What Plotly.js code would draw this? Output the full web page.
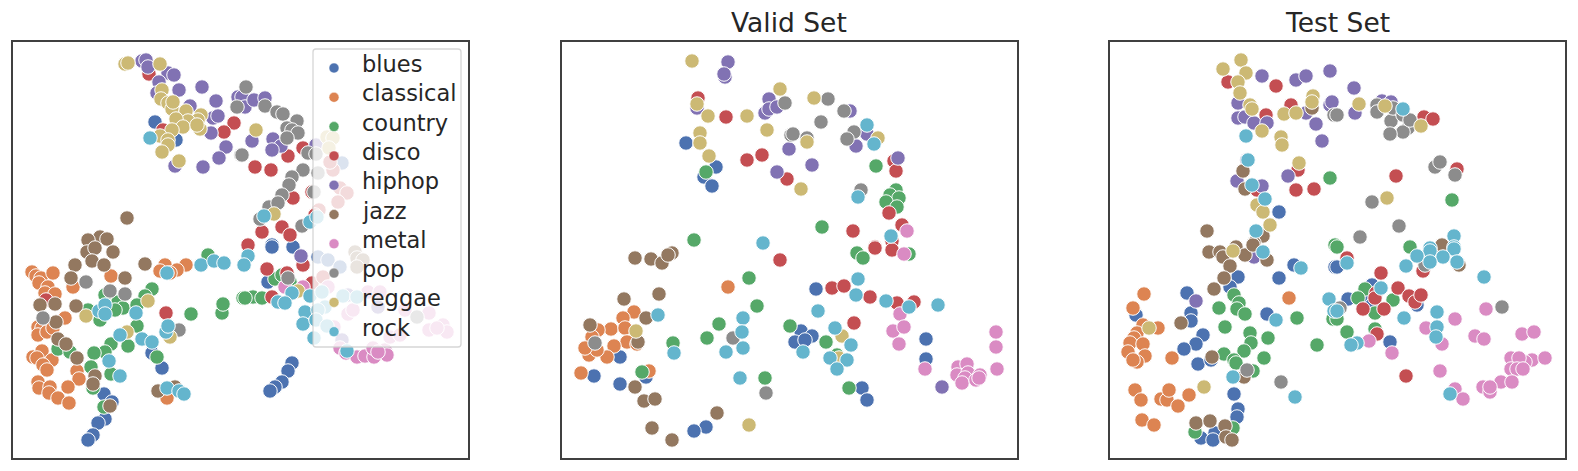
<!DOCTYPE html>
<html>
<head>
<meta charset="utf-8">
<script src="https://cdn.plot.ly/plotly-3.0.1.min.js"></script>
<style>body{margin:0;background:#fff}</style>
</head>
<body>
<div id="chart"></div>
<script>
var genres = ["blues","classical","country","disco","hiphop","jazz","metal","pop","reggae","rock"];
var colors = ["#4c72b0","#dd8452","#55a868","#c44e52","#8172b3","#937860","#da8bc3","#8c8c8c","#ccb974","#64b5cd"];

var trainBlues = [[155,122],[176,140],[342,163],[272,245],[293,247],[104,394],[152,353],[162,368],[105,419],[98,423],[93,435],[88,440],[112,402],[292,363],[288,371],[282,382],[275,387],[270,391],[268,282],[272,247],[318,257],[328,260],[340,267]];
var trainClassical = [[32,272],[36,276],[41,278],[53,273],[39,283],[48,287],[45,293],[55,294],[73,287],[111,276],[65,318],[38,327],[42,328],[38,335],[47,332],[53,328],[33,357],[42,351],[37,358],[52,360],[43,365],[47,370],[77,371],[79,379],[38,382],[39,388],[50,387],[49,393],[58,398],[68,387],[69,403],[167,398],[165,265],[186,265],[177,270],[160,271],[170,273]];
var trainCountry = [[105,295],[152,289],[145,296],[118,302],[123,308],[115,310],[88,310],[137,305],[100,320],[137,326],[111,344],[128,346],[105,352],[94,353],[58,349],[70,352],[91,367],[111,374],[157,357],[93,388],[104,407],[191,314],[222,313],[223,304],[208,255],[243,298],[275,279],[282,275],[253,297],[245,298],[262,298],[290,282]];
var trainDisco = [[149,74],[234,123],[224,132],[163,130],[255,167],[271,170],[288,156],[303,148],[293,198],[312,192],[333,170],[330,162],[340,188],[347,193],[338,202],[319,210],[315,215],[262,232],[282,227],[290,235],[248,245],[46,300],[166,313],[267,269],[303,265],[287,273],[312,283],[272,297],[323,277]];
var trainHiphop = [[142,61],[146,60],[148,67],[168,73],[174,75],[159,82],[157,93],[179,90],[202,87],[216,101],[213,118],[218,116],[190,106],[211,133],[226,147],[219,158],[203,167],[175,166],[238,97],[242,97],[245,107],[254,100],[265,98],[252,141],[273,139],[281,146],[272,150],[316,145],[301,256],[348,295],[378,307],[342,340]];
var trainJazz = [[127,218],[100,237],[107,239],[88,240],[75,265],[87,252],[95,248],[113,252],[92,261],[104,265],[71,278],[125,278],[145,264],[40,305],[55,304],[76,306],[56,322],[58,339],[66,344],[77,358],[95,376],[93,384],[158,391],[110,406],[175,387],[355,252],[357,258],[363,260],[357,267]];
var trainMetal = [[285,287],[303,287],[328,287],[368,292],[380,292],[405,310],[348,314],[353,310],[429,313],[429,330],[443,325],[447,332],[437,328],[334,327],[340,348],[346,353],[357,357],[365,356],[374,357],[373,348],[385,350],[387,355],[390,337],[400,335],[378,352]];
var trainPop = [[237,107],[241,155],[246,87],[265,106],[277,112],[283,114],[297,121],[287,128],[292,130],[298,133],[287,138],[308,153],[316,154],[303,170],[318,173],[292,177],[289,185],[282,195],[314,192],[269,207],[278,203],[260,219],[302,226],[242,155],[86,282],[110,291],[125,294],[43,318],[179,330],[288,278],[417,317]];
var trainReggae = [[125,64],[128,63],[160,64],[162,90],[161,99],[168,103],[172,109],[186,111],[201,115],[198,120],[188,121],[176,119],[200,129],[183,127],[172,130],[160,136],[168,140],[168,145],[162,152],[179,161],[173,102],[197,125],[256,130],[327,137],[333,138],[329,148],[274,214],[86,316],[148,301],[127,332],[170,337],[298,291]];
var trainRock = [[150,138],[264,216],[310,222],[317,217],[99,311],[105,305],[105,314],[136,313],[120,335],[142,339],[152,342],[109,361],[120,376],[166,332],[168,326],[167,273],[167,388],[179,391],[184,394],[201,265],[214,261],[224,263],[248,256],[244,265],[292,293],[278,302],[285,303],[310,296],[322,292],[343,296],[357,297],[305,312],[325,307],[318,310],[303,324],[316,320],[327,326],[314,338],[347,351]];

var validBlues = [[686,143],[716,167],[704,177],[712,186],[620,357],[594,376],[620,384],[646,377],[706,427],[694,431],[816,289],[801,331],[812,336],[795,342],[805,340],[926,339],[926,359],[862,388],[867,400]];
var validClassical = [[728,287],[634,312],[623,318],[611,329],[625,328],[598,330],[592,337],[627,342],[637,344],[614,346],[589,355],[607,357],[597,350],[585,348],[581,373],[649,371]];
var validCountry = [[706,172],[694,240],[876,166],[896,190],[890,195],[899,198],[886,202],[897,207],[822,227],[642,372],[673,343],[707,338],[719,324],[757,306],[749,278],[765,378],[790,326],[857,253],[863,258],[909,254],[826,342],[837,355],[849,388]];
var validDisco = [[698,98],[726,117],[762,155],[747,160],[787,179],[894,161],[896,171],[889,213],[902,225],[853,231],[875,247],[892,241],[780,260],[875,248],[892,250],[832,288],[844,286],[870,297],[897,303],[914,302],[854,323]];
var validHiphop = [[728,62],[725,77],[724,74],[769,99],[765,113],[769,109],[777,107],[697,108],[777,172],[789,149],[850,111],[867,134],[856,146],[812,165],[898,158],[942,387]];
var validJazz = [[635,258],[651,259],[662,263],[672,253],[668,255],[624,299],[659,294],[646,318],[590,325],[638,342],[635,387],[644,401],[655,399],[717,413],[652,428],[672,440]];
var validMetal = [[907,231],[904,254],[900,314],[893,331],[904,327],[899,344],[925,369],[996,332],[996,347],[997,369],[958,367],[967,364],[957,375],[968,373],[965,378],[962,383],[976,380],[980,375],[979,378]];
var validPop = [[785,103],[791,135],[828,99],[844,111],[821,122],[854,132],[847,139],[793,134],[807,138],[861,190],[595,343],[733,338],[766,393]];
var validReggae = [[692,61],[780,89],[697,104],[708,116],[747,116],[767,130],[700,133],[700,143],[709,156],[814,98],[878,138],[807,142],[801,189],[636,331],[749,425],[842,336],[839,358]];
var validRock = [[763,243],[867,125],[874,144],[858,197],[891,236],[658,315],[674,353],[743,318],[742,332],[743,348],[726,352],[740,378],[858,279],[856,295],[818,311],[886,301],[909,307],[938,305],[835,328],[851,345],[803,352],[830,358],[847,360],[837,369]];

var testBlues = [[1279,212],[1294,265],[1279,278],[1238,277],[1230,287],[1187,293],[1191,313],[1191,321],[1203,335],[1196,344],[1184,349],[1198,364],[1211,360],[1267,314],[1234,394],[1238,409],[1237,417],[1215,433],[1201,438],[1213,440],[1335,267],[1136,315],[1337,267],[1348,299],[1417,305],[1372,285],[1368,298],[1390,342],[1372,305]];
var testClassical = [[1144,294],[1133,308],[1143,325],[1158,328],[1137,333],[1134,338],[1130,343],[1143,344],[1128,352],[1145,356],[1137,362],[1133,360],[1172,358],[1135,390],[1141,400],[1161,399],[1167,400],[1169,390],[1189,395],[1178,406],[1142,420],[1154,425],[1289,298]];
var testCountry = [[1330,178],[1335,245],[1452,200],[1410,247],[1337,247],[1234,295],[1239,303],[1237,309],[1245,314],[1219,308],[1225,327],[1250,333],[1251,343],[1268,338],[1244,351],[1224,354],[1264,358],[1234,360],[1236,363],[1253,371],[1297,318],[1317,345],[1195,432],[1233,428],[1333,319],[1365,289],[1358,298],[1375,313],[1393,300],[1347,332],[1375,329],[1337,319]];
var testDisco = [[1228,82],[1276,86],[1291,105],[1266,115],[1298,170],[1296,190],[1314,189],[1257,190],[1424,117],[1433,119],[1457,169],[1396,176],[1347,258],[1423,271],[1381,273],[1398,288],[1409,296],[1415,302],[1421,295],[1376,293],[1375,298],[1363,309],[1384,309],[1377,334],[1406,376]];
var testHiphop = [[1262,76],[1296,80],[1306,76],[1330,71],[1238,103],[1238,118],[1245,117],[1254,123],[1267,123],[1306,113],[1316,124],[1322,141],[1330,105],[1332,102],[1288,176],[1237,181],[1262,186],[1247,160],[1354,88],[1355,113],[1382,101],[1391,102],[1254,257],[1196,301]];
var testJazz = [[1312,108],[1243,171],[1245,189],[1207,231],[1263,236],[1254,243],[1236,247],[1442,247],[1209,252],[1220,252],[1223,257],[1245,255],[1253,245],[1267,260],[1230,266],[1224,278],[1214,289],[1181,323],[1212,357],[1244,377],[1196,423],[1210,421],[1225,426],[1226,437],[1232,440],[1442,245],[1459,265]];
var testMetal = [[1486,309],[1455,319],[1426,328],[1442,344],[1369,341],[1392,353],[1475,336],[1484,339],[1522,334],[1534,332],[1440,371],[1511,358],[1532,360],[1545,358],[1525,362],[1519,358],[1511,369],[1517,369],[1523,369],[1501,382],[1512,382],[1483,387],[1490,392],[1490,387],[1455,389],[1463,399]];
var testPop = [[1334,115],[1337,115],[1377,105],[1377,112],[1391,121],[1393,108],[1403,115],[1408,128],[1403,132],[1390,134],[1435,167],[1440,162],[1455,175],[1372,202],[1399,226],[1360,237],[1410,120],[1247,370],[1281,382],[1425,265],[1340,308],[1502,307]];
var testReggae = [[1241,60],[1223,69],[1246,73],[1238,82],[1240,93],[1250,105],[1252,109],[1262,131],[1281,137],[1282,145],[1284,114],[1296,113],[1313,96],[1312,102],[1299,163],[1257,205],[1263,212],[1270,225],[1359,104],[1385,106],[1421,126],[1387,198],[1233,251],[1149,328],[1204,387]];
var testRock = [[1246,136],[1248,160],[1252,185],[1265,199],[1256,231],[1403,109],[1454,236],[1454,247],[1430,248],[1263,252],[1301,268],[1276,320],[1329,299],[1334,311],[1233,377],[1295,397],[1430,251],[1454,249],[1417,256],[1443,257],[1430,262],[1457,262],[1406,266],[1347,263],[1484,277],[1381,288],[1337,311],[1404,318],[1437,312],[1437,327],[1436,337],[1357,343],[1351,345],[1450,394]];

var W = 1578, H = 471;
var panels = [
  {left: 12.7, right: 468, axis: "", points: [trainBlues,trainClassical,trainCountry,trainDisco,trainHiphop,trainJazz,trainMetal,trainPop,trainReggae,trainRock]},
  {left: 561.5, right: 1017, axis: "2", points: [validBlues,validClassical,validCountry,validDisco,validHiphop,validJazz,validMetal,validPop,validReggae,validRock]},
  {left: 1110, right: 1565, axis: "3", points: [testBlues,testClassical,testCountry,testDisco,testHiphop,testJazz,testMetal,testPop,testReggae,testRock]}
];
var frameTop = 42, frameBottom = 458;

var traces = [];
var layout = {
  width: W, height: H,
  margin: {l: 0, r: 0, t: 0, b: 0},
  paper_bgcolor: "#fff", plot_bgcolor: "#fff",
  showlegend: false,
  shapes: [], annotations: []
};

panels.forEach(function(p) {
  var xName = "x" + p.axis, yName = "y" + p.axis;
  layout["xaxis" + p.axis] = {
    domain: [p.left / W, p.right / W], range: [p.left, p.right], anchor: yName,
    showticklabels: false, ticks: "", showgrid: false, zeroline: false,
    showline: true, mirror: true, linecolor: "#404040", linewidth: 2
  };
  layout["yaxis" + p.axis] = {
    domain: [1 - frameBottom / H, 1 - frameTop / H], range: [frameBottom, frameTop], anchor: xName,
    showticklabels: false, ticks: "", showgrid: false, zeroline: false,
    showline: true, mirror: true, linecolor: "#404040", linewidth: 2
  };
  p.points.forEach(function(pts, i) {
    traces.push({
      type: "scatter", mode: "markers", name: genres[i], xaxis: xName, yaxis: yName,
      x: pts.map(function(d) { return d[0]; }),
      y: pts.map(function(d) { return d[1]; }),
      marker: {size: 14.5, color: colors[i], line: {color: "#fff", width: 1}}
    });
  });
});

// Titles on panels 2 and 3
[["Valid Set", "x2 domain"], ["Test Set", "x3 domain"]].forEach(function(t) {
  layout.annotations.push({
    text: t[0], xref: t[1], yref: "paper", x: 0.5, y: 1 - 40 / H, yanchor: "bottom", xanchor: "center",
    showarrow: false, font: {family: "DejaVu Sans", size: 26.5, color: "#262626"}
  });
});

// Legend in the first panel, a native one cannot get this row spacing at this font size
layout.shapes.push({
  type: "path", xref: "x", yref: "y", layer: "above",
  path: "M 316 49 L 458 49 Q 461 49 461 52 L 461 344 Q 461 347 458 347 L 316 347 Q 313 347 313 344 L 313 52 Q 313 49 316 49 Z",
  fillcolor: "rgba(255,255,255,0.8)", line: {color: "rgba(204,204,204,0.8)", width: 1.3}
});
genres.forEach(function(g, i) {
  var rowY = 68 + i * 29.3;
  layout.shapes.push({
    type: "circle", xref: "x", yref: "y", layer: "above",
    x0: 329, x1: 339, y0: rowY - 5, y1: rowY + 5,
    fillcolor: colors[i], line: {color: "#fff", width: 0.5}
  });
  layout.annotations.push({
    text: g, xref: "x", yref: "y", x: 360, y: rowY - 4, xanchor: "left", yanchor: "middle",
    showarrow: false, font: {family: "DejaVu Sans", size: 22.5, color: "#262626"}
  });
});

Plotly.newPlot("chart", traces, layout, {displayModeBar: false, staticPlot: true});
</script>
</body>
</html>
